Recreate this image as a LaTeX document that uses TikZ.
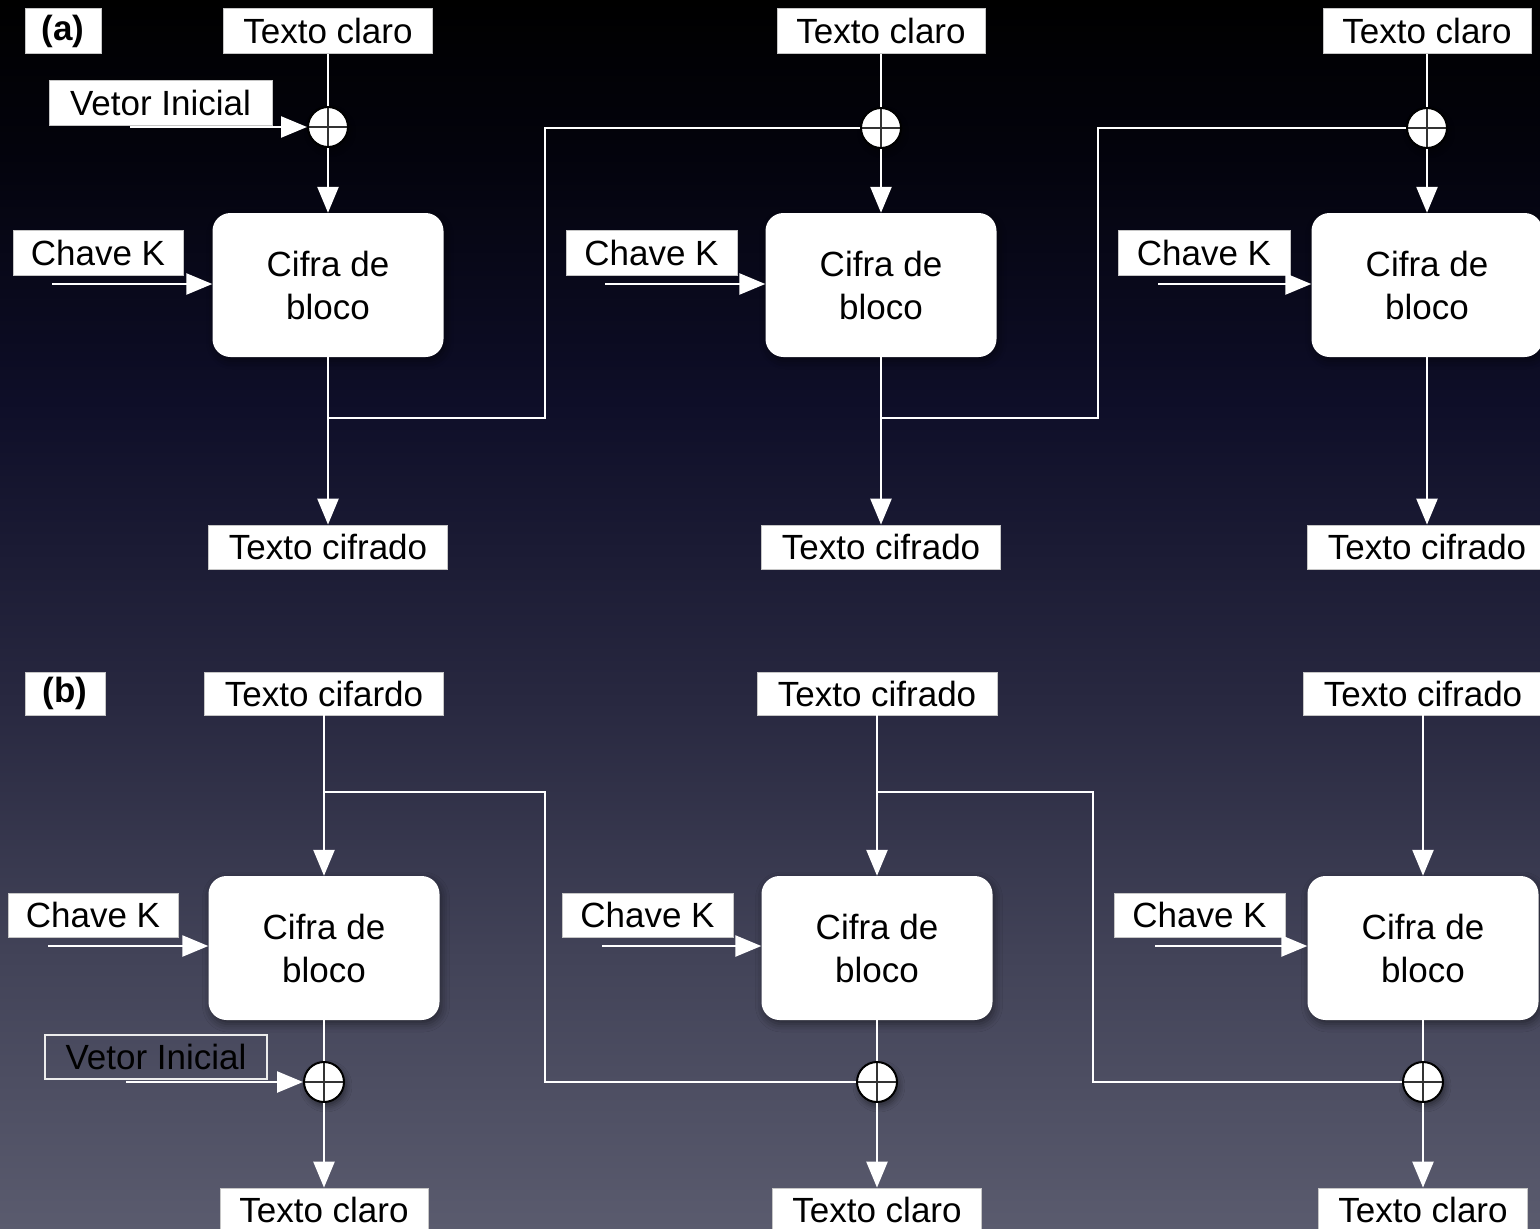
\documentclass[tikz,border=0pt]{standalone}
\usepackage{fontspec}
\setmainfont{Liberation Sans}
\usetikzlibrary{arrows.meta,shadows.blur}

% background: black at the top fading to a slate blue-grey at the bottom
\definecolor{bgA}{RGB}{0,0,0}
\definecolor{bgB}{RGB}{3,3,12}
\definecolor{bgC}{RGB}{14,14,40}
\definecolor{bgD}{RGB}{40,40,64}
\definecolor{bgE}{RGB}{66,67,88}
\definecolor{bgF}{RGB}{90,91,110}
\pgfdeclareverticalshading{bgshade}{100bp}{%
  color(0bp)=(bgF); color(25bp)=(bgF); color(36bp)=(bgE); color(46.5bp)=(bgD);
  color(58.7bp)=(bgC); color(68.9bp)=(bgB); color(75bp)=(bgA); color(100bp)=(bgA)}

\tikzset{
  txt/.style={font=\fontsize{35}{43}\selectfont},
  lbl/.style={txt, draw=gray!45, line width=0.8pt, fill=white, text=black,
              minimum height=45pt, inner sep=0pt},
  tag/.style={lbl, font=\fontsize{35}{43}\selectfont\bfseries},
  ivopen/.style={txt, draw=white!85!gray, line width=1.6pt, text=black,
              minimum height=44pt, inner sep=0pt},
  cipher/.style={txt, fill=white, text=black, rounded corners=18pt,
              minimum width=231pt, minimum height=144pt, align=center,
              blur shadow={shadow xshift=2pt, shadow yshift=-4pt,
                           shadow blur radius=8pt, shadow opacity=45}},
  xorgate/.style={circle, draw=black, line width=2pt, fill=white,
              minimum size=40pt, inner sep=0pt,
              blur shadow={shadow xshift=2pt, shadow yshift=-4pt,
                           shadow blur radius=6pt, shadow opacity=45},
              path picture={
                \draw[black!80, line width=1.4pt]
                  (path picture bounding box.north) -- (path picture bounding box.south)
                  (path picture bounding box.west) -- (path picture bounding box.east);}},
  wire/.style={draw=white, line width=2.5pt},
  arr/.style={wire, -{Triangle[length=26pt,width=21pt,fill=white]}},
}

\begin{document}
\begin{tikzpicture}[x=1pt,y=-1pt]
\useasboundingbox (0,0) rectangle (1540,1229);
\shade[shading=bgshade] (0,0) rectangle (1540,1229);

% ---------------- (a) encryption chain ----------------
\node[tag, minimum width=76pt] (a-tag) at (63,31) {(a)};

\node[lbl, minimum width=209pt] (a-pt1) at (328,31) {Texto claro};
\node[lbl, minimum width=208pt] (a-pt2) at (881,31) {Texto claro};
\node[lbl, minimum width=208pt] (a-pt3) at (1427,31) {Texto claro};

\node[lbl, minimum width=223pt] (a-iv) at (160.5,102.5) {Vetor Inicial};
\coordinate (a-ivs) at (130,127);

\node[xorgate] (a-x1) at (328,127) {};
\node[xorgate] (a-x2) at (881,128) {};
\node[xorgate] (a-x3) at (1427,128) {};

\node[cipher] (a-bc1) at (328,285) {Cifra de\\bloco};
\node[cipher] (a-bc2) at (881,285) {Cifra de\\bloco};
\node[cipher] (a-bc3) at (1427,285) {Cifra de\\bloco};

\node[lbl, minimum width=170pt] (a-k1) at (98,252.5) {Chave K};
\node[lbl, minimum width=171pt] (a-k2) at (651.5,252.5) {Chave K};
\node[lbl, minimum width=172pt] (a-k3) at (1204,252.5) {Chave K};
\coordinate (a-k1s) at (52,284);
\coordinate (a-k2s) at (605,284);
\coordinate (a-k3s) at (1158,284);

\node[lbl, minimum width=239pt, minimum height=44pt] (a-ct1) at (328,547) {Texto cifrado};
\node[lbl, minimum width=239pt, minimum height=44pt] (a-ct2) at (881,547) {Texto cifrado};
\node[lbl, minimum width=240pt, minimum height=44pt] (a-ct3) at (1427,547) {Texto cifrado};

\coordinate (a-j1) at (328,418);
\coordinate (a-r1) at (545,418);
\coordinate (a-j2) at (881,418);
\coordinate (a-r2) at (1098,418);

\foreach \i in {1,2,3}{
  \draw[wire] (a-pt\i) -- (a-x\i);
  \draw[arr] (a-x\i) -- (a-bc\i);
  \draw[arr] (a-bc\i) -- (a-ct\i);
  \draw[arr] (a-k\i s) -- (a-k\i s -| a-bc\i.west);
}
\draw[arr] (a-ivs) -- (a-x1);
\draw[wire] (a-j1) -- (a-r1) |- (a-x2);
\draw[wire] (a-j2) -- (a-r2) |- (a-x3);

% ---------------- (b) decryption chain ----------------
\node[tag, minimum width=80pt, minimum height=43pt] (b-tag) at (65,693.5) {(b)};

\node[lbl, minimum width=239pt, minimum height=43pt] (b-ct1) at (324,693.5) {Texto cifardo};
\node[lbl, minimum width=240pt, minimum height=43pt] (b-ct2) at (877,693.5) {Texto cifrado};
\node[lbl, minimum width=240pt, minimum height=43pt] (b-ct3) at (1423,693.5) {Texto cifrado};

\node[cipher] (b-bc1) at (324,948) {Cifra de\\bloco};
\node[cipher] (b-bc2) at (877,948) {Cifra de\\bloco};
\node[cipher] (b-bc3) at (1423,948) {Cifra de\\bloco};

\node[lbl, minimum width=170pt, minimum height=44pt] (b-k1) at (93,915) {Chave K};
\node[lbl, minimum width=171pt, minimum height=44pt] (b-k2) at (647.5,915) {Chave K};
\node[lbl, minimum width=171pt, minimum height=44pt] (b-k3) at (1199.5,915) {Chave K};
\coordinate (b-k1s) at (48,946);
\coordinate (b-k2s) at (602,946);
\coordinate (b-k3s) at (1155,946);

\node[ivopen, minimum width=222pt] (b-iv) at (156,1057) {Vetor Inicial};
\coordinate (b-ivs) at (126,1082);

\node[xorgate] (b-x1) at (324,1082) {};
\node[xorgate] (b-x2) at (877,1082) {};
\node[xorgate] (b-x3) at (1423,1082) {};

\node[lbl, minimum width=208pt, minimum height=44pt] (b-pt1) at (324,1210) {Texto claro};
\node[lbl, minimum width=209pt, minimum height=44pt] (b-pt2) at (877,1210) {Texto claro};
\node[lbl, minimum width=209pt, minimum height=44pt] (b-pt3) at (1423,1210) {Texto claro};

\coordinate (b-j1) at (324,792);
\coordinate (b-r1) at (545,792);
\coordinate (b-j2) at (877,792);
\coordinate (b-r2) at (1093,792);

\foreach \i in {1,2,3}{
  \draw[arr] (b-ct\i) -- (b-bc\i);
  \draw[wire] (b-bc\i) -- (b-x\i);
  \draw[arr] (b-x\i) -- (b-pt\i);
  \draw[arr] (b-k\i s) -- (b-k\i s -| b-bc\i.west);
}
\draw[arr] (b-ivs) -- (b-x1);
\draw[wire] (b-j1) -- (b-r1) |- (b-x2);
\draw[wire] (b-j2) -- (b-r2) |- (b-x3);
\end{tikzpicture}
\end{document}
